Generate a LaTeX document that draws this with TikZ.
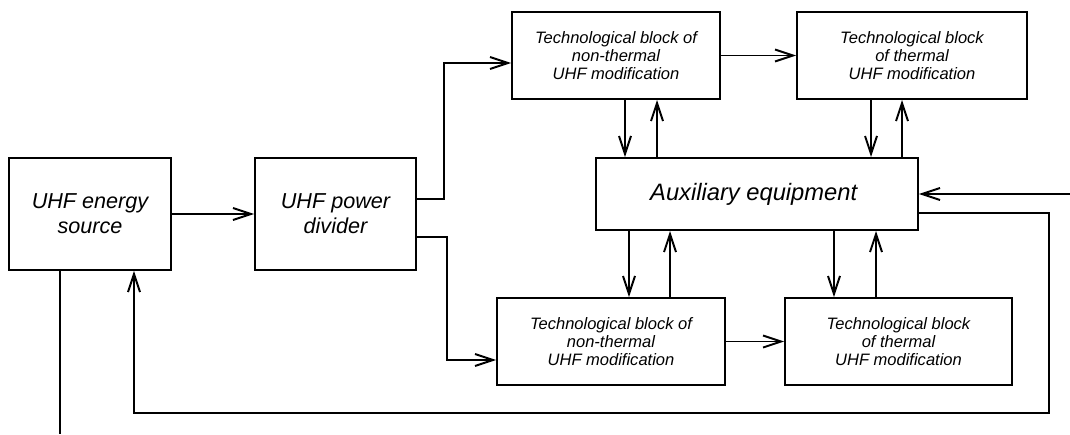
\documentclass[tikz,border=0pt]{standalone}
\usepackage{fontspec}
\setmainfont{Liberation Sans}
\usetikzlibrary{arrows.meta,calc,positioning}
\tikzset{
	block/.style={draw, line width=1.1pt, align=center, inner sep=0pt,
		font=\itshape},
	bigtxt/.style={font=\fontsize{12.3}{14.2}\selectfont\itshape},
	smalltxt/.style={font=\fontsize{9.4}{10.2}\selectfont\itshape},
	arr/.style={line width=1.1pt, -{Straight Barb[length=3.6mm,width=2.4mm,line width=1.1pt]}},
	wire/.style={line width=1.1pt}
}

\begin{document}
\begin{tikzpicture}[x=0.02cm, y=-0.02cm]
	\useasboundingbox (0,0) rectangle (1070,434);
	% draw rectangle node
	\node[block, bigtxt,
	minimum width=3.24cm,
	minimum height=2.24cm] (src) at (90,214) {
	UHF energy\\source
	};
	\node[block, bigtxt,
	minimum width=3.22cm,
	minimum height=2.24cm] (div) at (335.5,214) {
	UHF power\\divider
	};
	\node[block, smalltxt,
	minimum width=4.16cm,
	minimum height=1.74cm] (tbA) at (616,55.5) {
	Technological block of\\non-thermal\\UHF modification
	};
	\node[block, smalltxt,
	minimum width=4.6cm,
	minimum height=1.74cm] (tbB) at (912,55.5) {
	Technological block\\of thermal\\UHF modification
	};
	\node[block,
	font=\fontsize{13.5}{15}\selectfont\itshape,
	minimum width=6.44cm,
	minimum height=1.44cm] (aux) at (757,194) {
	Auxiliary equipment
	};
	\node[block, smalltxt,
	minimum width=4.56cm,
	minimum height=1.74cm] (tbC) at (611,341.5) {
	Technological block of\\non-thermal\\UHF modification
	};
	\node[block, smalltxt,
	minimum width=4.54cm,
	minimum height=1.74cm] (tbD) at (898.5,341.5) {
	Technological block\\of thermal\\UHF modification
	};
	\coordinate (in) at (1070,194);
	\coordinate (out) at (60,434);
	
	% Line
	\draw[wire] (src.south -| out) -- (out);
	
	% Arrows
	\draw[arr] (src) -- (div);
	\draw[arr] ($(div.east)+(0,-15)$) -- ++(27,0) |- ($(tbA.west)+(0,7.5)$);
	\draw[arr] ($(div.east)+(0,23)$) -- ++(30,0) |- ($(tbC.west)+(0,18.5)$);
	\draw[arr] (tbA) -- (tbB);
	\draw[arr] (tbC) -- (tbD);
	\draw[arr] (in) -- (aux.east);
	\draw[arr] ($(aux.east)+(0,19)$) -- ++(130,0) -- ++(0,200) -| ($(src.south)+(44,0)$);
	\foreach \blk/\dn/\up in {tbA/9/41, tbB/-41/-10} {
		\draw[arr] ($(\blk.south)+(\dn,0)$) coordinate (p) -- (p |- aux.north);
		\draw[arr] ($(\blk.south)+(\up,0)$) coordinate (q) (q |- aux.north) -- (q);
	}
	\foreach \blk/\dn/\up in {tbC/18/59, tbD/-64.5/-22.5} {
		\draw[arr] ($(\blk.north)+(\dn,0)$) coordinate (p) (p |- aux.south) -- (p);
		\draw[arr] ($(\blk.north)+(\up,0)$) coordinate (q) -- (q |- aux.south);
	}
\end{tikzpicture}
\end{document}
